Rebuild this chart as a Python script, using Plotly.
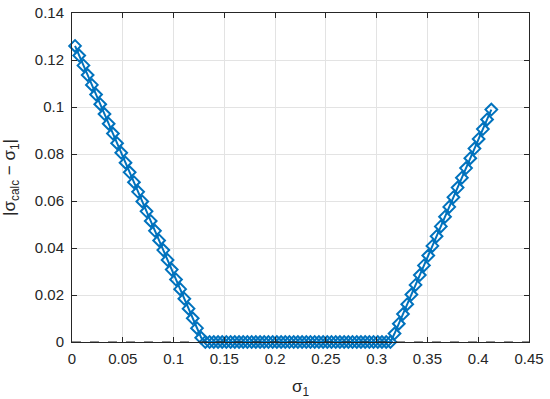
import plotly.graph_objects as go

sigma1 = [0.0030, 0.0071, 0.0113, 0.0154, 0.0196, 0.0237, 0.0278, 0.0320, 0.0361, 0.0403,
          0.0444, 0.0485, 0.0527, 0.0568, 0.0610, 0.0651, 0.0692, 0.0734, 0.0775, 0.0817,
          0.0858, 0.0899, 0.0941, 0.0982, 0.1024, 0.1065, 0.1106, 0.1148, 0.1189, 0.1231,
          0.1272, 0.1313, 0.1355, 0.1396, 0.1438, 0.1479, 0.1520, 0.1562, 0.1603, 0.1645,
          0.1686, 0.1727, 0.1769, 0.1810, 0.1852, 0.1893, 0.1934, 0.1976, 0.2017, 0.2059,
          0.2100, 0.2141, 0.2183, 0.2224, 0.2266, 0.2307, 0.2348, 0.2390, 0.2431, 0.2473,
          0.2514, 0.2555, 0.2597, 0.2638, 0.2680, 0.2721, 0.2762, 0.2804, 0.2845, 0.2887,
          0.2928, 0.2969, 0.3011, 0.3052, 0.3094, 0.3135, 0.3176, 0.3218, 0.3259, 0.3301,
          0.3342, 0.3383, 0.3425, 0.3466, 0.3508, 0.3549, 0.3590, 0.3632, 0.3673, 0.3715,
          0.3756, 0.3797, 0.3839, 0.3880, 0.3922, 0.3963, 0.4004, 0.4046, 0.4087, 0.4129]

abs_err = [0.1260, 0.1219, 0.1177, 0.1136, 0.1094, 0.1053, 0.1012, 0.0970, 0.0929, 0.0887,
           0.0846, 0.0805, 0.0763, 0.0722, 0.0680, 0.0639, 0.0598, 0.0556, 0.0515, 0.0473,
           0.0432, 0.0391, 0.0349, 0.0308, 0.0266, 0.0225, 0.0184, 0.0142, 0.0101, 0.0059,
           0.0018, 0.0, 0.0, 0.0, 0.0, 0.0, 0.0, 0.0, 0.0, 0.0,
           0.0, 0.0, 0.0, 0.0, 0.0, 0.0, 0.0, 0.0, 0.0, 0.0,
           0.0, 0.0, 0.0, 0.0, 0.0, 0.0, 0.0, 0.0, 0.0, 0.0,
           0.0, 0.0, 0.0, 0.0, 0.0, 0.0, 0.0, 0.0, 0.0, 0.0,
           0.0, 0.0, 0.0, 0.0, 0.0, 0.0, 0.0036, 0.0078, 0.0119, 0.0161,
           0.0202, 0.0243, 0.0285, 0.0326, 0.0368, 0.0409, 0.0450, 0.0492, 0.0533, 0.0575,
           0.0616, 0.0657, 0.0699, 0.0740, 0.0782, 0.0823, 0.0864, 0.0906, 0.0947, 0.0989]

ref_x = [0.0, 0.45]
ref_y = [0.0, 0.0]

x_ticks = [0, 0.05, 0.1, 0.15, 0.2, 0.25, 0.3, 0.35, 0.4, 0.45]
x_tick_labels = ["0", "0.05", "0.1", "0.15", "0.2", "0.25", "0.3", "0.35", "0.4", "0.45"]
y_ticks = [0, 0.02, 0.04, 0.06, 0.08, 0.1, 0.12, 0.14]
y_tick_labels = ["0", "0.02", "0.04", "0.06", "0.08", "0.1", "0.12", "0.14"]

FONT = "Liberation Sans, Arial, sans-serif"

fig = go.Figure()
fig.add_trace(go.Scatter(x=sigma1, y=abs_err, mode="lines+markers",
                         line=dict(color="#0072BD", width=2),
                         marker=dict(symbol="diamond-open", size=9, color="#0072BD",
                                     line=dict(width=2, color="#0072BD")),
                         showlegend=False, cliponaxis=False))
fig.add_trace(go.Scatter(x=ref_x, y=ref_y, mode="lines",
                         line=dict(color="#222222", width=1, dash="dash"),
                         showlegend=False, cliponaxis=False))

axis_common = dict(
    showline=True, linecolor="#262626", linewidth=1, mirror="ticks",
    ticks="inside", ticklen=5, tickcolor="#262626",
    showgrid=True, gridcolor="#e3e3e3", gridwidth=1, zeroline=False,
    automargin=False, ticklabeloverflow="allow",
    tickfont=dict(family=FONT, size=15, color="#262626"),
)

fig.update_xaxes(range=[0, 0.45], tickvals=x_ticks, ticktext=x_tick_labels,
                 ticklabelstandoff=3,
                 title=dict(text="σ<sub>1</sub>", standoff=16,
                            font=dict(family=FONT, size=17, color="#262626")),
                 **axis_common)
fig.update_yaxes(range=[0, 0.14], tickvals=y_ticks, ticktext=y_tick_labels,
                 ticklabelstandoff=4,
                 title=dict(text="|σ<sub>calc</sub> − σ<sub>1</sub>|", standoff=14,
                            font=dict(family=FONT, size=17, color="#262626")),
                 **axis_common)

fig.update_layout(width=550, height=399, margin=dict(l=72, r=21, t=13, b=57),
                  plot_bgcolor="white", paper_bgcolor="white")

fig.write_html("out.html", config={"displayModeBar": False},
               post_script="document.body.style.margin='0';document.body.style.overflow='hidden';")
